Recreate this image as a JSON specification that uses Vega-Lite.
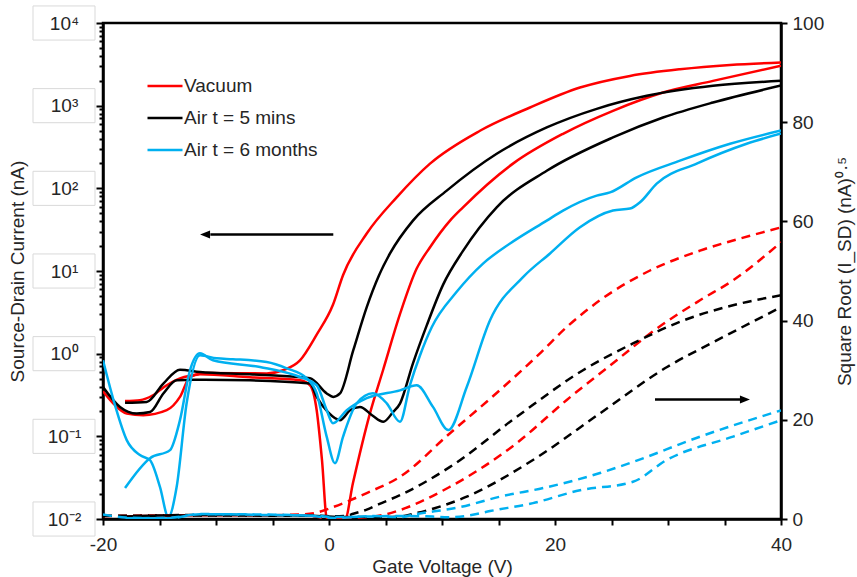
{
  "$schema": "https://vega.github.io/schema/vega-lite/v6.json",
  "width": 678,
  "height": 496,
  "autosize": {"type": "none"},
  "padding": {"left": 103, "top": 23, "right": 76, "bottom": 58},
  "background": "white",
  "config": {
    "font": "Liberation Sans",
    "view": {"stroke": "black", "strokeWidth": 2.5},
    "axis": {
      "grid": false,
      "domainColor": "black",
      "domainWidth": 2.5,
      "tickColor": "black",
      "tickWidth": 2,
      "labelFont": "Liberation Sans",
      "labelFontSize": 19,
      "labelColor": "#262626",
      "titleFont": "Liberation Sans",
      "titleFontSize": 19,
      "titleFontWeight": "normal",
      "titleColor": "#262626",
      "labelFlush": false,
      "labelOverlap": false
    }
  },
  "datasets": {
    "current": [
      {"series": "Vacuum", "sweep": "a", "v": -20, "i": 0.351},
      {"series": "Vacuum", "sweep": "a", "v": -18.94, "i": 0.238},
      {"series": "Vacuum", "sweep": "a", "v": -17.9, "i": 0.189},
      {"series": "Vacuum", "sweep": "a", "v": -16.43, "i": 0.18},
      {"series": "Vacuum", "sweep": "a", "v": -14.36, "i": 0.207},
      {"series": "Vacuum", "sweep": "a", "v": -13.19, "i": 0.3},
      {"series": "Vacuum", "sweep": "a", "v": -12.3, "i": 0.522},
      {"series": "Vacuum", "sweep": "a", "v": -11.42, "i": 0.563},
      {"series": "Vacuum", "sweep": "a", "v": -7, "i": 0.518},
      {"series": "Vacuum", "sweep": "a", "v": -2.57, "i": 0.476},
      {"series": "Vacuum", "sweep": "a", "v": -1.68, "i": 0.415},
      {"series": "Vacuum", "sweep": "a", "v": -1.09, "i": 0.207},
      {"series": "Vacuum", "sweep": "a", "v": -0.62, "i": 0.0515},
      {"series": "Vacuum", "sweep": "a", "v": -0.18, "i": 0.01},
      {"series": "Vacuum", "sweep": "a", "v": 1.42, "i": 0.01},
      {"series": "Vacuum", "sweep": "a", "v": 2.12, "i": 0.0272},
      {"series": "Vacuum", "sweep": "a", "v": 3.63, "i": 0.191},
      {"series": "Vacuum", "sweep": "a", "v": 4.78, "i": 0.63},
      {"series": "Vacuum", "sweep": "a", "v": 6.28, "i": 3.0},
      {"series": "Vacuum", "sweep": "a", "v": 7.76, "i": 10.7},
      {"series": "Vacuum", "sweep": "a", "v": 8.94, "i": 19.4},
      {"series": "Vacuum", "sweep": "a", "v": 10.71, "i": 40.7},
      {"series": "Vacuum", "sweep": "a", "v": 11.86, "i": 58.9},
      {"series": "Vacuum", "sweep": "a", "v": 16.28, "i": 199},
      {"series": "Vacuum", "sweep": "a", "v": 20.71, "i": 457},
      {"series": "Vacuum", "sweep": "a", "v": 25.13, "i": 867},
      {"series": "Vacuum", "sweep": "a", "v": 29.56, "i": 1442},
      {"series": "Vacuum", "sweep": "a", "v": 33.98, "i": 1995},
      {"series": "Vacuum", "sweep": "a", "v": 40, "i": 3040},

      {"series": "Vacuum", "sweep": "b", "v": -18.05, "i": 0.268},
      {"series": "Vacuum", "sweep": "b", "v": -16.73, "i": 0.274},
      {"series": "Vacuum", "sweep": "b", "v": -15.58, "i": 0.314},
      {"series": "Vacuum", "sweep": "b", "v": -14.36, "i": 0.415},
      {"series": "Vacuum", "sweep": "b", "v": -13.19, "i": 0.503},
      {"series": "Vacuum", "sweep": "b", "v": -12.04, "i": 0.548},
      {"series": "Vacuum", "sweep": "b", "v": -10.82, "i": 0.583},
      {"series": "Vacuum", "sweep": "b", "v": -5.51, "i": 0.577},
      {"series": "Vacuum", "sweep": "b", "v": -4.07, "i": 0.63},
      {"series": "Vacuum", "sweep": "b", "v": -2.57, "i": 0.83},
      {"series": "Vacuum", "sweep": "b", "v": -1.09, "i": 1.7},
      {"series": "Vacuum", "sweep": "b", "v": 0.35, "i": 3.9},
      {"series": "Vacuum", "sweep": "b", "v": 1.24, "i": 8.9},
      {"series": "Vacuum", "sweep": "b", "v": 3.34, "i": 28.4},
      {"series": "Vacuum", "sweep": "b", "v": 5.99, "i": 77.8},
      {"series": "Vacuum", "sweep": "b", "v": 8.94, "i": 199},
      {"series": "Vacuum", "sweep": "b", "v": 13.36, "i": 497},
      {"series": "Vacuum", "sweep": "b", "v": 17.79, "i": 950},
      {"series": "Vacuum", "sweep": "b", "v": 22.21, "i": 1656},
      {"series": "Vacuum", "sweep": "b", "v": 26.64, "i": 2291},
      {"series": "Vacuum", "sweep": "b", "v": 31.06, "i": 2761},
      {"series": "Vacuum", "sweep": "b", "v": 35.49, "i": 3113},
      {"series": "Vacuum", "sweep": "b", "v": 40, "i": 3330},

      {"series": "Air t = 5 mins", "sweep": "a", "v": -20, "i": 0.395},
      {"series": "Air t = 5 mins", "sweep": "a", "v": -18.5, "i": 0.227},
      {"series": "Air t = 5 mins", "sweep": "a", "v": -17.02, "i": 0.189},
      {"series": "Air t = 5 mins", "sweep": "a", "v": -15.84, "i": 0.197},
      {"series": "Air t = 5 mins", "sweep": "a", "v": -14.66, "i": 0.33},
      {"series": "Air t = 5 mins", "sweep": "a", "v": -13.48, "i": 0.476},
      {"series": "Air t = 5 mins", "sweep": "a", "v": -12.01, "i": 0.483},
      {"series": "Air t = 5 mins", "sweep": "a", "v": -6.99, "i": 0.476},
      {"series": "Air t = 5 mins", "sweep": "a", "v": -1.68, "i": 0.435},
      {"series": "Air t = 5 mins", "sweep": "a", "v": -1.09, "i": 0.3},
      {"series": "Air t = 5 mins", "sweep": "a", "v": -0.09, "i": 0.196},
      {"series": "Air t = 5 mins", "sweep": "a", "v": 0.97, "i": 0.157},
      {"series": "Air t = 5 mins", "sweep": "a", "v": 1.86, "i": 0.207},
      {"series": "Air t = 5 mins", "sweep": "a", "v": 2.74, "i": 0.227},
      {"series": "Air t = 5 mins", "sweep": "a", "v": 3.81, "i": 0.18},
      {"series": "Air t = 5 mins", "sweep": "a", "v": 4.81, "i": 0.15},
      {"series": "Air t = 5 mins", "sweep": "a", "v": 5.66, "i": 0.196},
      {"series": "Air t = 5 mins", "sweep": "a", "v": 6.28, "i": 0.249},
      {"series": "Air t = 5 mins", "sweep": "a", "v": 7.43, "i": 0.764},
      {"series": "Air t = 5 mins", "sweep": "a", "v": 8.65, "i": 2.2},
      {"series": "Air t = 5 mins", "sweep": "a", "v": 10.09, "i": 6.8},
      {"series": "Air t = 5 mins", "sweep": "a", "v": 11.86, "i": 17.5},
      {"series": "Air t = 5 mins", "sweep": "a", "v": 14.84, "i": 58.9},
      {"series": "Air t = 5 mins", "sweep": "a", "v": 19.27, "i": 163},
      {"series": "Air t = 5 mins", "sweep": "a", "v": 25.13, "i": 413},
      {"series": "Air t = 5 mins", "sweep": "a", "v": 29.56, "i": 719},
      {"series": "Air t = 5 mins", "sweep": "a", "v": 33.98, "i": 1092},
      {"series": "Air t = 5 mins", "sweep": "a", "v": 40, "i": 1750},

      {"series": "Air t = 5 mins", "sweep": "b", "v": -18.05, "i": 0.254},
      {"series": "Air t = 5 mins", "sweep": "b", "v": -16.13, "i": 0.261},
      {"series": "Air t = 5 mins", "sweep": "b", "v": -14.66, "i": 0.435},
      {"series": "Air t = 5 mins", "sweep": "b", "v": -13.19, "i": 0.641},
      {"series": "Air t = 5 mins", "sweep": "b", "v": -11.42, "i": 0.6},
      {"series": "Air t = 5 mins", "sweep": "b", "v": -6.99, "i": 0.563},
      {"series": "Air t = 5 mins", "sweep": "b", "v": -1.68, "i": 0.503},
      {"series": "Air t = 5 mins", "sweep": "b", "v": -0.2, "i": 0.33},
      {"series": "Air t = 5 mins", "sweep": "b", "v": 0.38, "i": 0.3},
      {"series": "Air t = 5 mins", "sweep": "b", "v": 0.97, "i": 0.33},
      {"series": "Air t = 5 mins", "sweep": "b", "v": 2.15, "i": 1.1},
      {"series": "Air t = 5 mins", "sweep": "b", "v": 3.34, "i": 3.66},
      {"series": "Air t = 5 mins", "sweep": "b", "v": 4.42, "i": 8.83},
      {"series": "Air t = 5 mins", "sweep": "b", "v": 5.4, "i": 16.3},
      {"series": "Air t = 5 mins", "sweep": "b", "v": 7.43, "i": 40.7},
      {"series": "Air t = 5 mins", "sweep": "b", "v": 10.42, "i": 93.8},
      {"series": "Air t = 5 mins", "sweep": "b", "v": 14.84, "i": 262},
      {"series": "Air t = 5 mins", "sweep": "b", "v": 19.27, "i": 545},
      {"series": "Air t = 5 mins", "sweep": "b", "v": 23.69, "i": 916},
      {"series": "Air t = 5 mins", "sweep": "b", "v": 28.12, "i": 1315},
      {"series": "Air t = 5 mins", "sweep": "b", "v": 33.98, "i": 1738},
      {"series": "Air t = 5 mins", "sweep": "b", "v": 40, "i": 2000},

      {"series": "Air t = 6 months", "sweep": "a", "v": -20, "i": 0.832},
      {"series": "Air t = 6 months", "sweep": "a", "v": -18.94, "i": 0.238},
      {"series": "Air t = 6 months", "sweep": "a", "v": -17.9, "i": 0.09},
      {"series": "Air t = 6 months", "sweep": "a", "v": -16.73, "i": 0.0593},
      {"series": "Air t = 6 months", "sweep": "a", "v": -15.84, "i": 0.0515},
      {"series": "Air t = 6 months", "sweep": "a", "v": -14.96, "i": 0.0245},
      {"series": "Air t = 6 months", "sweep": "a", "v": -14.22, "i": 0.0106},
      {"series": "Air t = 6 months", "sweep": "a", "v": -13.48, "i": 0.0245},
      {"series": "Air t = 6 months", "sweep": "a", "v": -12.6, "i": 0.251},
      {"series": "Air t = 6 months", "sweep": "a", "v": -11.42, "i": 0.955},
      {"series": "Air t = 6 months", "sweep": "a", "v": -9.94, "i": 0.878},
      {"series": "Air t = 6 months", "sweep": "a", "v": -8.5, "i": 0.858},
      {"series": "Air t = 6 months", "sweep": "a", "v": -5.51, "i": 0.793},
      {"series": "Air t = 6 months", "sweep": "a", "v": -3.74, "i": 0.665},
      {"series": "Air t = 6 months", "sweep": "a", "v": -1.97, "i": 0.503},
      {"series": "Air t = 6 months", "sweep": "a", "v": -1.09, "i": 0.332},
      {"series": "Air t = 6 months", "sweep": "a", "v": -0.2, "i": 0.0987},
      {"series": "Air t = 6 months", "sweep": "a", "v": 0.53, "i": 0.0474},
      {"series": "Air t = 6 months", "sweep": "a", "v": 1.24, "i": 0.0987},
      {"series": "Air t = 6 months", "sweep": "a", "v": 2.45, "i": 0.251},
      {"series": "Air t = 6 months", "sweep": "a", "v": 3.89, "i": 0.332},
      {"series": "Air t = 6 months", "sweep": "a", "v": 5.11, "i": 0.251},
      {"series": "Air t = 6 months", "sweep": "a", "v": 6.28, "i": 0.15},
      {"series": "Air t = 6 months", "sweep": "a", "v": 7.17, "i": 0.42},
      {"series": "Air t = 6 months", "sweep": "a", "v": 8.05, "i": 0.95},
      {"series": "Air t = 6 months", "sweep": "a", "v": 9.1, "i": 2.1},
      {"series": "Air t = 6 months", "sweep": "a", "v": 11.3, "i": 5.6},
      {"series": "Air t = 6 months", "sweep": "a", "v": 13.63, "i": 12.3},
      {"series": "Air t = 6 months", "sweep": "a", "v": 16.02, "i": 21.5},
      {"series": "Air t = 6 months", "sweep": "a", "v": 19.27, "i": 40.7},
      {"series": "Air t = 6 months", "sweep": "a", "v": 20.71, "i": 53.8},
      {"series": "Air t = 6 months", "sweep": "a", "v": 23.69, "i": 81.6},
      {"series": "Air t = 6 months", "sweep": "a", "v": 24.87, "i": 89.4},
      {"series": "Air t = 6 months", "sweep": "a", "v": 27.23, "i": 136},
      {"series": "Air t = 6 months", "sweep": "a", "v": 31.06, "i": 216},
      {"series": "Air t = 6 months", "sweep": "a", "v": 35.49, "i": 346},
      {"series": "Air t = 6 months", "sweep": "a", "v": 40, "i": 500},

      {"series": "Air t = 6 months", "sweep": "b", "v": -18.05, "i": 0.0237},
      {"series": "Air t = 6 months", "sweep": "b", "v": -15.84, "i": 0.0544},
      {"series": "Air t = 6 months", "sweep": "b", "v": -14.07, "i": 0.0681},
      {"series": "Air t = 6 months", "sweep": "b", "v": -13.19, "i": 0.157},
      {"series": "Air t = 6 months", "sweep": "b", "v": -12.3, "i": 0.63},
      {"series": "Air t = 6 months", "sweep": "b", "v": -11.42, "i": 1.01},
      {"series": "Air t = 6 months", "sweep": "b", "v": -10.27, "i": 0.832},
      {"series": "Air t = 6 months", "sweep": "b", "v": -6.11, "i": 0.69},
      {"series": "Air t = 6 months", "sweep": "b", "v": -2.57, "i": 0.522},
      {"series": "Air t = 6 months", "sweep": "b", "v": -1.09, "i": 0.415},
      {"series": "Air t = 6 months", "sweep": "b", "v": -0.2, "i": 0.207},
      {"series": "Air t = 6 months", "sweep": "b", "v": 0.35, "i": 0.144},
      {"series": "Air t = 6 months", "sweep": "b", "v": 1.57, "i": 0.207},
      {"series": "Air t = 6 months", "sweep": "b", "v": 3.34, "i": 0.289},
      {"series": "Air t = 6 months", "sweep": "b", "v": 6.28, "i": 0.36},
      {"series": "Air t = 6 months", "sweep": "b", "v": 7.76, "i": 0.415},
      {"series": "Air t = 6 months", "sweep": "b", "v": 9.2, "i": 0.227},
      {"series": "Air t = 6 months", "sweep": "b", "v": 10.56, "i": 0.119},
      {"series": "Air t = 6 months", "sweep": "b", "v": 12.19, "i": 0.395},
      {"series": "Air t = 6 months", "sweep": "b", "v": 14.25, "i": 2.53},
      {"series": "Air t = 6 months", "sweep": "b", "v": 17.17, "i": 8.42},
      {"series": "Air t = 6 months", "sweep": "b", "v": 19.56, "i": 16.3},
      {"series": "Air t = 6 months", "sweep": "b", "v": 22.21, "i": 33.8},
      {"series": "Air t = 6 months", "sweep": "b", "v": 25.13, "i": 53.8},
      {"series": "Air t = 6 months", "sweep": "b", "v": 26.64, "i": 56.9},
      {"series": "Air t = 6 months", "sweep": "b", "v": 27.52, "i": 67.8},
      {"series": "Air t = 6 months", "sweep": "b", "v": 29.0, "i": 114},
      {"series": "Air t = 6 months", "sweep": "b", "v": 32.54, "i": 199},
      {"series": "Air t = 6 months", "sweep": "b", "v": 36.96, "i": 346},
      {"series": "Air t = 6 months", "sweep": "b", "v": 40, "i": 460}
    ],
    "sqrt": [
      {"series": "Vacuum", "sweep": "a", "v": -20, "s": 0.59},
      {"series": "Vacuum", "sweep": "a", "v": -12, "s": 0.75},
      {"series": "Vacuum", "sweep": "a", "v": -2.57, "s": 0.69},
      {"series": "Vacuum", "sweep": "a", "v": -1.09, "s": 0.45},
      {"series": "Vacuum", "sweep": "a", "v": -0.2, "s": 0.1},
      {"series": "Vacuum", "sweep": "a", "v": 1.42, "s": 0.1},
      {"series": "Vacuum", "sweep": "a", "v": 2.12, "s": 0.16},
      {"series": "Vacuum", "sweep": "a", "v": 4.78, "s": 0.8},
      {"series": "Vacuum", "sweep": "a", "v": 6.28, "s": 1.8},
      {"series": "Vacuum", "sweep": "a", "v": 10.71, "s": 6.5},
      {"series": "Vacuum", "sweep": "a", "v": 16.61, "s": 15.3},
      {"series": "Vacuum", "sweep": "a", "v": 21.04, "s": 24.0},
      {"series": "Vacuum", "sweep": "a", "v": 25.46, "s": 32.0},
      {"series": "Vacuum", "sweep": "a", "v": 28.41, "s": 37.4},
      {"series": "Vacuum", "sweep": "a", "v": 32.83, "s": 44.1},
      {"series": "Vacuum", "sweep": "a", "v": 35.75, "s": 48.1},
      {"series": "Vacuum", "sweep": "a", "v": 40, "s": 55.8},

      {"series": "Vacuum", "sweep": "b", "v": -18.05, "s": 0.52},
      {"series": "Vacuum", "sweep": "b", "v": -12, "s": 0.74},
      {"series": "Vacuum", "sweep": "b", "v": -5.5, "s": 0.76},
      {"series": "Vacuum", "sweep": "b", "v": -2.57, "s": 0.91},
      {"series": "Vacuum", "sweep": "b", "v": -1.09, "s": 1.3},
      {"series": "Vacuum", "sweep": "b", "v": 0.35, "s": 2.4},
      {"series": "Vacuum", "sweep": "b", "v": 3.34, "s": 5.23},
      {"series": "Vacuum", "sweep": "b", "v": 6.28, "s": 8.51},
      {"series": "Vacuum", "sweep": "b", "v": 10.71, "s": 17.3},
      {"series": "Vacuum", "sweep": "b", "v": 15.13, "s": 26.0},
      {"series": "Vacuum", "sweep": "b", "v": 18.67, "s": 33.4},
      {"series": "Vacuum", "sweep": "b", "v": 21.04, "s": 38.7},
      {"series": "Vacuum", "sweep": "b", "v": 23.98, "s": 44.1},
      {"series": "Vacuum", "sweep": "b", "v": 28.41, "s": 50.1},
      {"series": "Vacuum", "sweep": "b", "v": 32.83, "s": 54.1},
      {"series": "Vacuum", "sweep": "b", "v": 37.26, "s": 57.1},
      {"series": "Vacuum", "sweep": "b", "v": 40, "s": 58.8},

      {"series": "Air t = 5 mins", "sweep": "a", "v": -20, "s": 0.63},
      {"series": "Air t = 5 mins", "sweep": "a", "v": -12, "s": 0.69},
      {"series": "Air t = 5 mins", "sweep": "a", "v": -1.68, "s": 0.66},
      {"series": "Air t = 5 mins", "sweep": "a", "v": 0.97, "s": 0.4},
      {"series": "Air t = 5 mins", "sweep": "a", "v": 4.81, "s": 0.39},
      {"series": "Air t = 5 mins", "sweep": "a", "v": 6.28, "s": 0.5},
      {"series": "Air t = 5 mins", "sweep": "a", "v": 7.76, "s": 1.2},
      {"series": "Air t = 5 mins", "sweep": "a", "v": 12.19, "s": 4.5},
      {"series": "Air t = 5 mins", "sweep": "a", "v": 18.05, "s": 11.9},
      {"series": "Air t = 5 mins", "sweep": "a", "v": 23.98, "s": 21.3},
      {"series": "Air t = 5 mins", "sweep": "a", "v": 29.88, "s": 30.6},
      {"series": "Air t = 5 mins", "sweep": "a", "v": 34.31, "s": 36.0},
      {"series": "Air t = 5 mins", "sweep": "a", "v": 40, "s": 42.7},

      {"series": "Air t = 5 mins", "sweep": "b", "v": -18.05, "s": 0.5},
      {"series": "Air t = 5 mins", "sweep": "b", "v": -12, "s": 0.8},
      {"series": "Air t = 5 mins", "sweep": "b", "v": -1.68, "s": 0.71},
      {"series": "Air t = 5 mins", "sweep": "b", "v": 0.38, "s": 0.55},
      {"series": "Air t = 5 mins", "sweep": "b", "v": 1.42, "s": 0.6},
      {"series": "Air t = 5 mins", "sweep": "b", "v": 2.15, "s": 1.05},
      {"series": "Air t = 5 mins", "sweep": "b", "v": 3.34, "s": 1.9},
      {"series": "Air t = 5 mins", "sweep": "b", "v": 4.42, "s": 3.0},
      {"series": "Air t = 5 mins", "sweep": "b", "v": 6.28, "s": 4.8},
      {"series": "Air t = 5 mins", "sweep": "b", "v": 10.71, "s": 10.5},
      {"series": "Air t = 5 mins", "sweep": "b", "v": 16.61, "s": 20.6},
      {"series": "Air t = 5 mins", "sweep": "b", "v": 22.48, "s": 30.0},
      {"series": "Air t = 5 mins", "sweep": "b", "v": 26.9, "s": 35.4},
      {"series": "Air t = 5 mins", "sweep": "b", "v": 31.33, "s": 40.0},
      {"series": "Air t = 5 mins", "sweep": "b", "v": 35.75, "s": 43.1},
      {"series": "Air t = 5 mins", "sweep": "b", "v": 40, "s": 45.1},

      {"series": "Air t = 6 months", "sweep": "a", "v": -20, "s": 0.9},
      {"series": "Air t = 6 months", "sweep": "a", "v": -18, "s": 0.3},
      {"series": "Air t = 6 months", "sweep": "a", "v": -14.2, "s": 0.1},
      {"series": "Air t = 6 months", "sweep": "a", "v": -11.42, "s": 0.98},
      {"series": "Air t = 6 months", "sweep": "a", "v": -5.5, "s": 0.89},
      {"series": "Air t = 6 months", "sweep": "a", "v": -1.97, "s": 0.71},
      {"series": "Air t = 6 months", "sweep": "a", "v": 0.53, "s": 0.22},
      {"series": "Air t = 6 months", "sweep": "a", "v": 3.89, "s": 0.58},
      {"series": "Air t = 6 months", "sweep": "a", "v": 6.28, "s": 0.39},
      {"series": "Air t = 6 months", "sweep": "a", "v": 7.76, "s": 1.0},
      {"series": "Air t = 6 months", "sweep": "a", "v": 11.59, "s": 2.4},
      {"series": "Air t = 6 months", "sweep": "a", "v": 15.13, "s": 4.5},
      {"series": "Air t = 6 months", "sweep": "a", "v": 19.27, "s": 6.4},
      {"series": "Air t = 6 months", "sweep": "a", "v": 23.98, "s": 9.26},
      {"series": "Air t = 6 months", "sweep": "a", "v": 26.9, "s": 11.5},
      {"series": "Air t = 6 months", "sweep": "a", "v": 32.83, "s": 16.6},
      {"series": "Air t = 6 months", "sweep": "a", "v": 40, "s": 21.9},

      {"series": "Air t = 6 months", "sweep": "b", "v": -18, "s": 0.15},
      {"series": "Air t = 6 months", "sweep": "b", "v": -14, "s": 0.26},
      {"series": "Air t = 6 months", "sweep": "b", "v": -11.42, "s": 1.0},
      {"series": "Air t = 6 months", "sweep": "b", "v": -6, "s": 0.83},
      {"series": "Air t = 6 months", "sweep": "b", "v": -1, "s": 0.64},
      {"series": "Air t = 6 months", "sweep": "b", "v": 0.35, "s": 0.38},
      {"series": "Air t = 6 months", "sweep": "b", "v": 6.28, "s": 0.6},
      {"series": "Air t = 6 months", "sweep": "b", "v": 9.2, "s": 0.48},
      {"series": "Air t = 6 months", "sweep": "b", "v": 10.56, "s": 0.34},
      {"series": "Air t = 6 months", "sweep": "b", "v": 12.19, "s": 0.63},
      {"series": "Air t = 6 months", "sweep": "b", "v": 14.25, "s": 1.6},
      {"series": "Air t = 6 months", "sweep": "b", "v": 18.05, "s": 3.2},
      {"series": "Air t = 6 months", "sweep": "b", "v": 22.21, "s": 5.8},
      {"series": "Air t = 6 months", "sweep": "b", "v": 26.9, "s": 7.5},
      {"series": "Air t = 6 months", "sweep": "b", "v": 29.88, "s": 11.9},
      {"series": "Air t = 6 months", "sweep": "b", "v": 35.75, "s": 16.6},
      {"series": "Air t = 6 months", "sweep": "b", "v": 40, "s": 19.9}
    ],
    "decades": [
      {"tick": 0.01}, {"tick": 0.1}, {"tick": 1}, {"tick": 10},
      {"tick": 100}, {"tick": 1000}, {"tick": 10000}
    ]
  },
  "layer": [
    {
      "data": {"name": "decades"},
      "mark": {
        "type": "point",
        "shape": "M-1,-0.55H1V0.55H-1Z",
        "size": 3844,
        "filled": false,
        "stroke": "#d9d9d9",
        "strokeWidth": 1,
        "opacity": 1,
        "clip": false
      },
      "encoding": {
        "x": {"datum": -23.45, "type": "quantitative", "scale": {"domain": [-20, 40], "nice": false, "zero": false}},
        "y": {"field": "tick", "type": "quantitative", "scale": {"type": "log", "domain": [0.01, 10000]}, "axis": null}
      }
    },
    {
      "data": {"name": "current"},
      "mark": {"type": "line", "strokeWidth": 2.5, "interpolate": "monotone", "clip": true},
      "encoding": {
        "x": {
          "field": "v", "type": "quantitative",
          "scale": {"domain": [-20, 40], "nice": false, "zero": false},
          "axis": {
            "values": [-20, -15, -10, -5, 0, 5, 10, 15, 20, 25, 30, 35, 40],
            "labelExpr": "datum.value % 20 == 0 ? '' + datum.value : ''",
            "tickSize": 6,
            "labelPadding": 10,
            "title": "Gate Voltage (V)",
            "titleY": 47,
            "titleBaseline": "middle"
          }
        },
        "y": {
          "field": "i", "type": "quantitative",
          "scale": {"type": "log", "domain": [0.01, 10000]},
          "axis": {
            "orient": "left",
            "values": [0.01, 0.02, 0.03, 0.04, 0.05, 0.06, 0.07, 0.08, 0.09,
                       0.1, 0.2, 0.3, 0.4, 0.5, 0.6, 0.7, 0.8, 0.9,
                       1, 2, 3, 4, 5, 6, 7, 8, 9,
                       10, 20, 30, 40, 50, 60, 70, 80, 90,
                       100, 200, 300, 400, 500, 600, 700, 800, 900,
                       1000, 2000, 3000, 4000, 5000, 6000, 7000, 8000, 9000, 10000],
            "labelExpr": "datum.value == 10000 ? '10⁴' : datum.value == 1000 ? '10³' : datum.value == 100 ? '10²' : datum.value == 10 ? '10¹' : datum.value == 1 ? '10⁰' : datum.value == 0.1 ? '10⁻¹' : datum.value == 0.01 ? '10⁻²' : ''",
            "tickSize": {"condition": {"test": "indexof([0.01, 0.1, 1, 10, 100, 1000, 10000], datum.value) >= 0", "value": 7}, "value": 4},
            "labelAlign": "center",
            "labelBaseline": "middle",
            "labelPadding": 32,
            "title": "Source-Drain Current (nA)",
            "titleX": -86,
            "titleY": 248,
            "titleAngle": -90,
            "titleAlign": "center",
            "titleBaseline": "middle"
          }
        },
        "color": {
          "field": "series", "type": "nominal",
          "scale": {"domain": ["Vacuum", "Air t = 5 mins", "Air t = 6 months"], "range": ["#ff0000", "#000000", "#00b0f0"]},
          "legend": {
            "orient": "none",
            "legendX": 43,
            "legendY": 44,
            "title": null,
            "symbolType": "stroke",
            "symbolSize": 1225,
            "symbolStrokeWidth": 2.5,
            "labelFont": "Liberation Sans",
            "labelFontSize": 19,
            "labelColor": "#262626",
            "labelOffset": 0,
            "rowPadding": 3,
            "padding": 0
          }
        },
        "detail": {"field": "sweep"}
      }
    },
    {
      "data": {"name": "sqrt"},
      "mark": {"type": "line", "strokeWidth": 2.5, "strokeDash": [9, 6], "interpolate": "monotone", "clip": true},
      "encoding": {
        "x": {"field": "v", "type": "quantitative", "scale": {"domain": [-20, 40], "nice": false, "zero": false}},
        "y": {
          "field": "s", "type": "quantitative",
          "scale": {"domain": [0, 100], "nice": false},
          "axis": {
            "orient": "right",
            "values": [0, 20, 40, 60, 80, 100],
            "tickSize": 6,
            "labelPadding": 5,
            "labelBaseline": "middle",
            "title": "Square Root (I_SD) (nA)⁰·⁵",
            "titleX": 63,
            "titleY": 248,
            "titleAngle": -90,
            "titleAlign": "center",
            "titleBaseline": "middle"
          }
        },
        "color": {"field": "series", "type": "nominal"},
        "detail": {"field": "sweep"}
      }
    },
    {
      "data": {"values": [{}]},
      "mark": {"type": "rule", "color": "black", "strokeWidth": 2.5},
      "encoding": {
        "x": {"datum": -10.5, "type": "quantitative", "scale": {"domain": [-20, 40], "nice": false, "zero": false}},
        "x2": {"datum": 0.38},
        "y": {"datum": 27.6, "type": "quantitative", "scale": {"type": "log", "domain": [0.01, 10000]}, "axis": null}
      }
    },
    {
      "data": {"values": [{}]},
      "mark": {"type": "point", "shape": "M-1,0L1,-0.8L1,0.8Z", "size": 100, "filled": true, "color": "black", "opacity": 1},
      "encoding": {
        "x": {"datum": -10.97, "type": "quantitative", "scale": {"domain": [-20, 40], "nice": false, "zero": false}},
        "y": {"datum": 27.6, "type": "quantitative", "scale": {"type": "log", "domain": [0.01, 10000]}, "axis": null}
      }
    },
    {
      "data": {"values": [{}]},
      "mark": {"type": "rule", "color": "black", "strokeWidth": 2.5},
      "encoding": {
        "x": {"datum": 28.85, "type": "quantitative", "scale": {"domain": [-20, 40], "nice": false, "zero": false}},
        "x2": {"datum": 36.4},
        "y": {"datum": 24.1, "type": "quantitative", "scale": {"domain": [0, 100], "nice": false}, "axis": null}
      }
    },
    {
      "data": {"values": [{}]},
      "mark": {"type": "point", "shape": "M1,0L-1,-0.8L-1,0.8Z", "size": 100, "filled": true, "color": "black", "opacity": 1},
      "encoding": {
        "x": {"datum": 36.81, "type": "quantitative", "scale": {"domain": [-20, 40], "nice": false, "zero": false}},
        "y": {"datum": 24.1, "type": "quantitative", "scale": {"domain": [0, 100], "nice": false}, "axis": null}
      }
    }
  ],
  "resolve": {"scale": {"y": "independent"}}
}
